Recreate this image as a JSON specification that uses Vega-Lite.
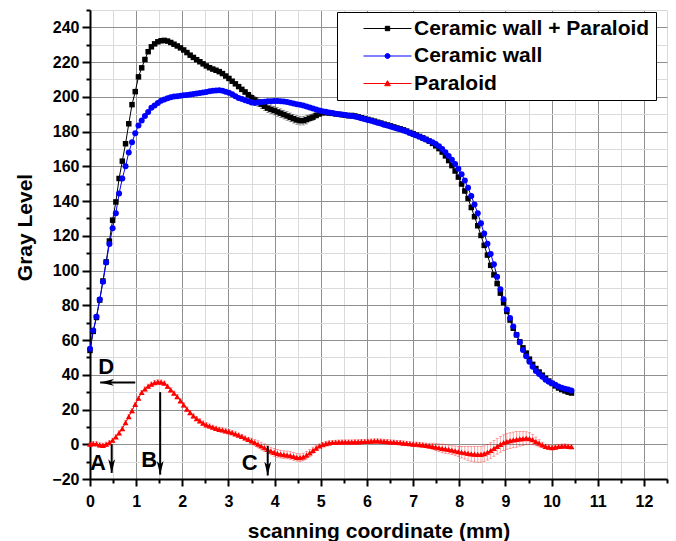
{
"$schema":"https://vega.github.io/schema/vega-lite/v6.json",
"width":577,"height":469,
"autosize":{"type":"none"},
"padding":{"left":90,"top":10,"right":9,"bottom":62},
"background":"white",
"config":{"view":{"stroke":null},"font":"Liberation Sans",
"legend":{"orient":"none","legendX":247,"legendY":2,"strokeColor":"black","fillColor":"white","padding":6,
"labelFont":"Liberation Sans","labelFontSize":21,"labelFontWeight":"bold","labelColor":"black","labelLimit":400,
"symbolSize":400,"labelOffset":50,"rowPadding":5.5,"symbolStrokeWidth":1}},
"datasets":{
"curves":[
{"s":"K","x":0,"y":54,"e":1},{"s":"K","x":0.07,"y":65,"e":1},{"s":"K","x":0.14,"y":73,"e":1},{"s":"K","x":0.21,"y":83,"e":1},{"s":"K","x":0.28,"y":94,"e":1},{"s":"K","x":0.35,"y":105,"e":1},{"s":"K","x":0.42,"y":117,"e":1},{"s":"K","x":0.49,"y":129,"e":1},{"s":"K","x":0.56,"y":139.5,"e":1},{"s":"K","x":0.63,"y":153,"e":1},{"s":"K","x":0.7,"y":163,"e":1},{"s":"K","x":0.77,"y":173,"e":1},{"s":"K","x":0.84,"y":184.5,"e":1},{"s":"K","x":0.91,"y":195.5,"e":1},{"s":"K","x":0.98,"y":203,"e":1},{"s":"K","x":1.05,"y":211.5,"e":1},{"s":"K","x":1.12,"y":216.7,"e":1},{"s":"K","x":1.19,"y":221.5,"e":1},{"s":"K","x":1.26,"y":226,"e":1},{"s":"K","x":1.33,"y":228.8,"e":1},{"s":"K","x":1.4,"y":230.5,"e":1},{"s":"K","x":1.47,"y":231.7,"e":1},{"s":"K","x":1.54,"y":232.3,"e":1},{"s":"K","x":1.61,"y":232.5,"e":1},{"s":"K","x":1.68,"y":232.1,"e":1},{"s":"K","x":1.75,"y":231.3,"e":1},{"s":"K","x":1.82,"y":230.3,"e":1},{"s":"K","x":1.89,"y":229.3,"e":1},{"s":"K","x":1.96,"y":228.2,"e":1},{"s":"K","x":2.03,"y":227,"e":1},{"s":"K","x":2.1,"y":225.5,"e":1},{"s":"K","x":2.17,"y":224,"e":1},{"s":"K","x":2.24,"y":222.7,"e":1},{"s":"K","x":2.31,"y":221.4,"e":1},{"s":"K","x":2.38,"y":220.2,"e":1},{"s":"K","x":2.45,"y":219,"e":1},{"s":"K","x":2.52,"y":217.8,"e":1},{"s":"K","x":2.59,"y":216.8,"e":1},{"s":"K","x":2.66,"y":216,"e":1},{"s":"K","x":2.73,"y":215.3,"e":1},{"s":"K","x":2.8,"y":214.5,"e":1},{"s":"K","x":2.87,"y":213.4,"e":1},{"s":"K","x":2.94,"y":212,"e":1},{"s":"K","x":3.01,"y":210.6,"e":1},{"s":"K","x":3.08,"y":209,"e":1},{"s":"K","x":3.15,"y":207.5,"e":1},{"s":"K","x":3.22,"y":205.9,"e":1},{"s":"K","x":3.29,"y":204.3,"e":1},{"s":"K","x":3.36,"y":202.8,"e":1.5},{"s":"K","x":3.43,"y":201.2,"e":1.5},{"s":"K","x":3.5,"y":199.5,"e":2},{"s":"K","x":3.57,"y":198.2,"e":2},{"s":"K","x":3.64,"y":197,"e":2.5},{"s":"K","x":3.71,"y":195.8,"e":2.5},{"s":"K","x":3.78,"y":194.6,"e":2.5},{"s":"K","x":3.85,"y":193.5,"e":2.5},{"s":"K","x":3.92,"y":192.8,"e":2.5},{"s":"K","x":3.99,"y":192.1,"e":2.5},{"s":"K","x":4.06,"y":191.3,"e":2.5},{"s":"K","x":4.13,"y":190.6,"e":2.5},{"s":"K","x":4.2,"y":189.8,"e":2.5},{"s":"K","x":4.27,"y":189,"e":2.5},{"s":"K","x":4.34,"y":188.2,"e":2.5},{"s":"K","x":4.41,"y":187.4,"e":2.5},{"s":"K","x":4.48,"y":186.7,"e":2.5},{"s":"K","x":4.55,"y":186.3,"e":2.5},{"s":"K","x":4.62,"y":186.3,"e":2.5},{"s":"K","x":4.69,"y":186.9,"e":2.5},{"s":"K","x":4.76,"y":187.7,"e":2},{"s":"K","x":4.83,"y":188.3,"e":2},{"s":"K","x":4.9,"y":189.3,"e":1.5},{"s":"K","x":4.97,"y":190.2,"e":1.5},{"s":"K","x":5.04,"y":190.8,"e":1},{"s":"K","x":5.11,"y":190.9,"e":1},{"s":"K","x":5.18,"y":190.7,"e":1},{"s":"K","x":5.25,"y":190.5,"e":1},{"s":"K","x":5.32,"y":190.2,"e":1},{"s":"K","x":5.39,"y":190,"e":1},{"s":"K","x":5.46,"y":189.7,"e":1},{"s":"K","x":5.53,"y":189.4,"e":1},{"s":"K","x":5.6,"y":189.1,"e":1},{"s":"K","x":5.67,"y":189.3,"e":1},{"s":"K","x":5.74,"y":189,"e":1},{"s":"K","x":5.81,"y":188.5,"e":1},{"s":"K","x":5.88,"y":188,"e":1},{"s":"K","x":5.95,"y":187.5,"e":1},{"s":"K","x":6.02,"y":187,"e":1},{"s":"K","x":6.09,"y":186.5,"e":1},{"s":"K","x":6.16,"y":186,"e":1},{"s":"K","x":6.23,"y":185.4,"e":1},{"s":"K","x":6.3,"y":184.9,"e":1},{"s":"K","x":6.37,"y":184.3,"e":1},{"s":"K","x":6.44,"y":183.8,"e":1},{"s":"K","x":6.51,"y":183.3,"e":1},{"s":"K","x":6.58,"y":182.7,"e":1},{"s":"K","x":6.65,"y":182.1,"e":1},{"s":"K","x":6.72,"y":181.6,"e":1},{"s":"K","x":6.79,"y":181,"e":1},{"s":"K","x":6.86,"y":180.3,"e":1},{"s":"K","x":6.93,"y":179.5,"e":1},{"s":"K","x":7,"y":178.8,"e":1},{"s":"K","x":7.07,"y":178,"e":1},{"s":"K","x":7.14,"y":177.2,"e":1},{"s":"K","x":7.21,"y":176.4,"e":1},{"s":"K","x":7.28,"y":175.5,"e":1},{"s":"K","x":7.35,"y":174.5,"e":1},{"s":"K","x":7.42,"y":173.2,"e":1},{"s":"K","x":7.49,"y":171.8,"e":1},{"s":"K","x":7.56,"y":170.2,"e":1},{"s":"K","x":7.63,"y":168.2,"e":1},{"s":"K","x":7.7,"y":166,"e":1},{"s":"K","x":7.77,"y":163.3,"e":1},{"s":"K","x":7.84,"y":160.4,"e":1},{"s":"K","x":7.91,"y":157.3,"e":1},{"s":"K","x":7.98,"y":153.8,"e":1},{"s":"K","x":8.05,"y":149.8,"e":1},{"s":"K","x":8.12,"y":145.8,"e":1},{"s":"K","x":8.19,"y":141.5,"e":1},{"s":"K","x":8.26,"y":136.3,"e":1},{"s":"K","x":8.33,"y":131,"e":1},{"s":"K","x":8.4,"y":125.8,"e":1},{"s":"K","x":8.47,"y":120.2,"e":1},{"s":"K","x":8.54,"y":114.5,"e":1},{"s":"K","x":8.61,"y":108.9,"e":1},{"s":"K","x":8.68,"y":103,"e":1},{"s":"K","x":8.75,"y":97.5,"e":1},{"s":"K","x":8.82,"y":92.5,"e":1},{"s":"K","x":8.89,"y":87,"e":1},{"s":"K","x":8.96,"y":81.5,"e":1},{"s":"K","x":9.03,"y":76.5,"e":1},{"s":"K","x":9.1,"y":71.5,"e":1},{"s":"K","x":9.17,"y":66.8,"e":1},{"s":"K","x":9.24,"y":63,"e":1},{"s":"K","x":9.31,"y":59,"e":1},{"s":"K","x":9.38,"y":55.5,"e":1},{"s":"K","x":9.45,"y":52.5,"e":1},{"s":"K","x":9.52,"y":49,"e":1},{"s":"K","x":9.59,"y":46,"e":1},{"s":"K","x":9.66,"y":43.6,"e":1},{"s":"K","x":9.73,"y":41.6,"e":1},{"s":"K","x":9.8,"y":39.8,"e":1},{"s":"K","x":9.87,"y":38,"e":1},{"s":"K","x":9.94,"y":36.4,"e":1},{"s":"K","x":10.01,"y":35,"e":1},{"s":"K","x":10.08,"y":33.6,"e":1},{"s":"K","x":10.15,"y":32.4,"e":1},{"s":"K","x":10.22,"y":31.5,"e":1},{"s":"K","x":10.29,"y":30.7,"e":1},{"s":"K","x":10.36,"y":30,"e":1},{"s":"K","x":10.43,"y":29.5,"e":1},
{"s":"B","x":0,"y":55,"e":0.8},{"s":"B","x":0.07,"y":65.5,"e":0.8},{"s":"B","x":0.14,"y":73.4,"e":0.8},{"s":"B","x":0.21,"y":83.4,"e":0.8},{"s":"B","x":0.28,"y":93.6,"e":0.8},{"s":"B","x":0.35,"y":104.6,"e":0.8},{"s":"B","x":0.42,"y":115.3,"e":0.8},{"s":"B","x":0.49,"y":124.3,"e":0.8},{"s":"B","x":0.56,"y":133,"e":0.8},{"s":"B","x":0.63,"y":144.3,"e":0.8},{"s":"B","x":0.7,"y":153,"e":0.8},{"s":"B","x":0.77,"y":160,"e":0.8},{"s":"B","x":0.84,"y":168,"e":0.8},{"s":"B","x":0.91,"y":173.8,"e":0.8},{"s":"B","x":0.98,"y":179,"e":0.8},{"s":"B","x":1.05,"y":183.5,"e":0.8},{"s":"B","x":1.12,"y":186.4,"e":0.8},{"s":"B","x":1.19,"y":189,"e":0.8},{"s":"B","x":1.26,"y":191.3,"e":0.8},{"s":"B","x":1.33,"y":193.7,"e":0.8},{"s":"B","x":1.4,"y":195,"e":0.8},{"s":"B","x":1.47,"y":196.5,"e":0.8},{"s":"B","x":1.54,"y":197.8,"e":0.8},{"s":"B","x":1.61,"y":198.5,"e":0.8},{"s":"B","x":1.68,"y":199.2,"e":0.8},{"s":"B","x":1.75,"y":199.8,"e":0.8},{"s":"B","x":1.82,"y":200.2,"e":0.8},{"s":"B","x":1.89,"y":200.4,"e":0.8},{"s":"B","x":1.96,"y":200.7,"e":0.8},{"s":"B","x":2.03,"y":200.9,"e":0.8},{"s":"B","x":2.1,"y":201.1,"e":0.8},{"s":"B","x":2.17,"y":201.4,"e":0.8},{"s":"B","x":2.24,"y":201.6,"e":0.8},{"s":"B","x":2.31,"y":201.9,"e":0.8},{"s":"B","x":2.38,"y":202.2,"e":0.8},{"s":"B","x":2.45,"y":202.5,"e":0.8},{"s":"B","x":2.52,"y":202.8,"e":0.8},{"s":"B","x":2.59,"y":203.2,"e":0.8},{"s":"B","x":2.66,"y":203.5,"e":0.8},{"s":"B","x":2.73,"y":203.7,"e":0.8},{"s":"B","x":2.8,"y":203.8,"e":0.8},{"s":"B","x":2.87,"y":203.5,"e":0.8},{"s":"B","x":2.94,"y":203,"e":0.8},{"s":"B","x":3.01,"y":202.3,"e":0.8},{"s":"B","x":3.08,"y":201.5,"e":0.8},{"s":"B","x":3.15,"y":200.3,"e":0.8},{"s":"B","x":3.22,"y":199.4,"e":0.8},{"s":"B","x":3.29,"y":198.8,"e":0.8},{"s":"B","x":3.36,"y":198.1,"e":0.8},{"s":"B","x":3.43,"y":197.5,"e":0.8},{"s":"B","x":3.5,"y":196.8,"e":0.8},{"s":"B","x":3.57,"y":196.5,"e":0.8},{"s":"B","x":3.64,"y":196.7,"e":0.8},{"s":"B","x":3.71,"y":197,"e":0.8},{"s":"B","x":3.78,"y":197.2,"e":0.8},{"s":"B","x":3.85,"y":197.4,"e":0.8},{"s":"B","x":3.92,"y":197.5,"e":0.8},{"s":"B","x":3.99,"y":197.6,"e":0.8},{"s":"B","x":4.06,"y":197.6,"e":0.8},{"s":"B","x":4.13,"y":197.5,"e":0.8},{"s":"B","x":4.2,"y":197.3,"e":0.8},{"s":"B","x":4.27,"y":197,"e":0.8},{"s":"B","x":4.34,"y":196.6,"e":0.8},{"s":"B","x":4.41,"y":196.2,"e":0.8},{"s":"B","x":4.48,"y":195.8,"e":0.8},{"s":"B","x":4.55,"y":195.4,"e":0.8},{"s":"B","x":4.62,"y":195,"e":0.8},{"s":"B","x":4.69,"y":194.5,"e":0.8},{"s":"B","x":4.76,"y":193.9,"e":0.8},{"s":"B","x":4.83,"y":193.3,"e":0.8},{"s":"B","x":4.9,"y":192.7,"e":0.8},{"s":"B","x":4.97,"y":192.1,"e":0.8},{"s":"B","x":5.04,"y":191.7,"e":0.8},{"s":"B","x":5.11,"y":191.4,"e":0.8},{"s":"B","x":5.18,"y":191,"e":0.8},{"s":"B","x":5.25,"y":190.7,"e":0.8},{"s":"B","x":5.32,"y":190.3,"e":0.8},{"s":"B","x":5.39,"y":190,"e":0.8},{"s":"B","x":5.46,"y":189.8,"e":0.8},{"s":"B","x":5.53,"y":189.5,"e":0.8},{"s":"B","x":5.6,"y":189.3,"e":0.8},{"s":"B","x":5.67,"y":189,"e":0.8},{"s":"B","x":5.74,"y":188.7,"e":0.8},{"s":"B","x":5.81,"y":188.2,"e":0.8},{"s":"B","x":5.88,"y":187.7,"e":0.8},{"s":"B","x":5.95,"y":187.2,"e":0.8},{"s":"B","x":6.02,"y":186.7,"e":0.8},{"s":"B","x":6.09,"y":186.2,"e":0.8},{"s":"B","x":6.16,"y":185.7,"e":0.8},{"s":"B","x":6.23,"y":185.1,"e":0.8},{"s":"B","x":6.3,"y":184.6,"e":0.8},{"s":"B","x":6.37,"y":184,"e":0.8},{"s":"B","x":6.44,"y":183.5,"e":0.8},{"s":"B","x":6.51,"y":183,"e":0.8},{"s":"B","x":6.58,"y":182.4,"e":0.8},{"s":"B","x":6.65,"y":181.8,"e":0.8},{"s":"B","x":6.72,"y":181.3,"e":0.8},{"s":"B","x":6.79,"y":180.7,"e":0.8},{"s":"B","x":6.86,"y":180,"e":0.8},{"s":"B","x":6.93,"y":179.2,"e":0.8},{"s":"B","x":7,"y":178.5,"e":0.8},{"s":"B","x":7.07,"y":177.7,"e":0.8},{"s":"B","x":7.14,"y":177,"e":0.8},{"s":"B","x":7.21,"y":176.2,"e":0.8},{"s":"B","x":7.28,"y":175.4,"e":0.8},{"s":"B","x":7.35,"y":174.6,"e":0.8},{"s":"B","x":7.42,"y":173.8,"e":0.8},{"s":"B","x":7.49,"y":172.8,"e":0.8},{"s":"B","x":7.56,"y":171.5,"e":0.8},{"s":"B","x":7.63,"y":170,"e":0.8},{"s":"B","x":7.7,"y":168.1,"e":0.8},{"s":"B","x":7.77,"y":166,"e":0.8},{"s":"B","x":7.84,"y":163.8,"e":0.8},{"s":"B","x":7.91,"y":161.3,"e":0.8},{"s":"B","x":7.98,"y":158.6,"e":0.8},{"s":"B","x":8.05,"y":155.5,"e":0.8},{"s":"B","x":8.12,"y":151.8,"e":0.8},{"s":"B","x":8.19,"y":147.6,"e":0.8},{"s":"B","x":8.26,"y":142.9,"e":0.8},{"s":"B","x":8.33,"y":138,"e":0.8},{"s":"B","x":8.4,"y":133,"e":0.8},{"s":"B","x":8.47,"y":127.2,"e":0.8},{"s":"B","x":8.54,"y":121.3,"e":0.8},{"s":"B","x":8.61,"y":115.5,"e":0.8},{"s":"B","x":8.68,"y":109.6,"e":0.8},{"s":"B","x":8.75,"y":103.7,"e":0.8},{"s":"B","x":8.82,"y":96.5,"e":0.8},{"s":"B","x":8.89,"y":89.3,"e":0.8},{"s":"B","x":8.96,"y":83.5,"e":0.8},{"s":"B","x":9.03,"y":77.6,"e":0.8},{"s":"B","x":9.1,"y":72.7,"e":0.8},{"s":"B","x":9.17,"y":67.8,"e":0.8},{"s":"B","x":9.24,"y":63.1,"e":0.8},{"s":"B","x":9.31,"y":58.7,"e":0.8},{"s":"B","x":9.38,"y":54.2,"e":0.8},{"s":"B","x":9.45,"y":50.6,"e":0.8},{"s":"B","x":9.52,"y":47.5,"e":0.8},{"s":"B","x":9.59,"y":44.6,"e":0.8},{"s":"B","x":9.66,"y":42.2,"e":0.8},{"s":"B","x":9.73,"y":40.4,"e":0.8},{"s":"B","x":9.8,"y":38.8,"e":0.8},{"s":"B","x":9.87,"y":37.2,"e":0.8},{"s":"B","x":9.94,"y":36,"e":0.8},{"s":"B","x":10.01,"y":35.1,"e":0.8},{"s":"B","x":10.08,"y":34.2,"e":0.8},{"s":"B","x":10.15,"y":33.3,"e":0.8},{"s":"B","x":10.22,"y":32.6,"e":0.8},{"s":"B","x":10.29,"y":32,"e":0.8},{"s":"B","x":10.36,"y":31.5,"e":0.8},{"s":"B","x":10.43,"y":31,"e":0.8},
{"s":"R","x":0,"y":0,"e":1.2},{"s":"R","x":0.07,"y":0.4,"e":1.2},{"s":"R","x":0.14,"y":0.3,"e":1.2},{"s":"R","x":0.21,"y":-0.4,"e":1.2},{"s":"R","x":0.28,"y":-0.6,"e":1.2},{"s":"R","x":0.35,"y":0,"e":1.2},{"s":"R","x":0.42,"y":0.9,"e":1.2},{"s":"R","x":0.49,"y":2.3,"e":1.2},{"s":"R","x":0.56,"y":4.3,"e":1.2},{"s":"R","x":0.63,"y":6.5,"e":1.2},{"s":"R","x":0.7,"y":9,"e":1.2},{"s":"R","x":0.77,"y":12.4,"e":1.2},{"s":"R","x":0.84,"y":15.9,"e":1.2},{"s":"R","x":0.91,"y":19.3,"e":1.2},{"s":"R","x":0.98,"y":23,"e":1.2},{"s":"R","x":1.05,"y":26.5,"e":1.2},{"s":"R","x":1.12,"y":29.8,"e":1.2},{"s":"R","x":1.19,"y":31.8,"e":1.2},{"s":"R","x":1.26,"y":33.4,"e":1.2},{"s":"R","x":1.33,"y":34.6,"e":1.2},{"s":"R","x":1.4,"y":35.5,"e":1.2},{"s":"R","x":1.47,"y":35.9,"e":1.2},{"s":"R","x":1.54,"y":35.8,"e":1.2},{"s":"R","x":1.61,"y":35.2,"e":1.2},{"s":"R","x":1.68,"y":33.4,"e":1.2},{"s":"R","x":1.75,"y":31.3,"e":1.2},{"s":"R","x":1.82,"y":29.4,"e":1.2},{"s":"R","x":1.89,"y":27.4,"e":1.2},{"s":"R","x":1.96,"y":25,"e":1.2},{"s":"R","x":2.03,"y":22.7,"e":1.2},{"s":"R","x":2.1,"y":20.2,"e":1.2},{"s":"R","x":2.17,"y":18.2,"e":1.2},{"s":"R","x":2.24,"y":16.3,"e":1.2},{"s":"R","x":2.31,"y":14.8,"e":1.2},{"s":"R","x":2.38,"y":13.5,"e":1.2},{"s":"R","x":2.45,"y":12.2,"e":1.2},{"s":"R","x":2.52,"y":11.2,"e":1.2},{"s":"R","x":2.59,"y":10.5,"e":1.2},{"s":"R","x":2.66,"y":9.8,"e":1.2},{"s":"R","x":2.73,"y":9.2,"e":1.2},{"s":"R","x":2.8,"y":8.6,"e":1.2},{"s":"R","x":2.87,"y":8.2,"e":1.2},{"s":"R","x":2.94,"y":7.7,"e":1.2},{"s":"R","x":3.01,"y":7.3,"e":1.2},{"s":"R","x":3.08,"y":6.7,"e":1.2},{"s":"R","x":3.15,"y":6,"e":1.2},{"s":"R","x":3.22,"y":5.3,"e":1.2},{"s":"R","x":3.29,"y":4.5,"e":1.2},{"s":"R","x":3.36,"y":3.6,"e":1.2},{"s":"R","x":3.43,"y":2.8,"e":1.2},{"s":"R","x":3.5,"y":2,"e":1.5},{"s":"R","x":3.57,"y":1,"e":1.8},{"s":"R","x":3.64,"y":0,"e":2},{"s":"R","x":3.71,"y":-1,"e":2.2},{"s":"R","x":3.78,"y":-2,"e":2.2},{"s":"R","x":3.85,"y":-3,"e":2.2},{"s":"R","x":3.92,"y":-3.9,"e":2.2},{"s":"R","x":3.99,"y":-4.7,"e":2.2},{"s":"R","x":4.06,"y":-5.3,"e":2.2},{"s":"R","x":4.13,"y":-5.7,"e":2.2},{"s":"R","x":4.2,"y":-6,"e":2.2},{"s":"R","x":4.27,"y":-6.2,"e":2.2},{"s":"R","x":4.34,"y":-6.5,"e":2.2},{"s":"R","x":4.41,"y":-7,"e":2.2},{"s":"R","x":4.48,"y":-7.5,"e":2.2},{"s":"R","x":4.55,"y":-7.7,"e":2.2},{"s":"R","x":4.62,"y":-7.3,"e":2.2},{"s":"R","x":4.69,"y":-6.3,"e":2.2},{"s":"R","x":4.76,"y":-5,"e":2},{"s":"R","x":4.83,"y":-3.5,"e":1.8},{"s":"R","x":4.9,"y":-2.2,"e":1.5},{"s":"R","x":4.97,"y":-1,"e":1.2},{"s":"R","x":5.04,"y":-0.2,"e":1.2},{"s":"R","x":5.11,"y":0.4,"e":1.2},{"s":"R","x":5.18,"y":0.8,"e":1.2},{"s":"R","x":5.25,"y":1,"e":1.2},{"s":"R","x":5.32,"y":1.1,"e":1.2},{"s":"R","x":5.39,"y":1.2,"e":1.2},{"s":"R","x":5.46,"y":1.3,"e":1.2},{"s":"R","x":5.53,"y":1.3,"e":1.2},{"s":"R","x":5.6,"y":1.3,"e":1.2},{"s":"R","x":5.67,"y":1.3,"e":1.2},{"s":"R","x":5.74,"y":1.4,"e":1.2},{"s":"R","x":5.81,"y":1.4,"e":1.2},{"s":"R","x":5.88,"y":1.5,"e":1.2},{"s":"R","x":5.95,"y":1.6,"e":1.2},{"s":"R","x":6.02,"y":1.7,"e":1.2},{"s":"R","x":6.09,"y":1.8,"e":1.2},{"s":"R","x":6.16,"y":1.9,"e":1.2},{"s":"R","x":6.23,"y":1.9,"e":1.2},{"s":"R","x":6.3,"y":1.8,"e":1.2},{"s":"R","x":6.37,"y":1.7,"e":1.2},{"s":"R","x":6.44,"y":1.5,"e":1.2},{"s":"R","x":6.51,"y":1.3,"e":1.2},{"s":"R","x":6.58,"y":1.2,"e":1.2},{"s":"R","x":6.65,"y":1,"e":1.2},{"s":"R","x":6.72,"y":0.9,"e":1.2},{"s":"R","x":6.79,"y":0.7,"e":1.2},{"s":"R","x":6.86,"y":0.5,"e":1.2},{"s":"R","x":6.93,"y":0.3,"e":1.2},{"s":"R","x":7,"y":0.1,"e":1.2},{"s":"R","x":7.07,"y":0,"e":1.2},{"s":"R","x":7.14,"y":-0.2,"e":1.2},{"s":"R","x":7.21,"y":-0.4,"e":1.2},{"s":"R","x":7.28,"y":-0.6,"e":1.2},{"s":"R","x":7.35,"y":-0.9,"e":1.5},{"s":"R","x":7.42,"y":-1.2,"e":1.8},{"s":"R","x":7.49,"y":-1.6,"e":2},{"s":"R","x":7.56,"y":-2,"e":2.2},{"s":"R","x":7.63,"y":-2.4,"e":2.5},{"s":"R","x":7.7,"y":-2.7,"e":2.5},{"s":"R","x":7.77,"y":-3,"e":2.5},{"s":"R","x":7.84,"y":-3.4,"e":2.5},{"s":"R","x":7.91,"y":-3.8,"e":2.8},{"s":"R","x":7.98,"y":-4.2,"e":3},{"s":"R","x":8.05,"y":-4.6,"e":3.3},{"s":"R","x":8.12,"y":-4.9,"e":3.6},{"s":"R","x":8.19,"y":-5.2,"e":4},{"s":"R","x":8.26,"y":-5.5,"e":4.3},{"s":"R","x":8.33,"y":-5.7,"e":4.5},{"s":"R","x":8.4,"y":-5.8,"e":4.5},{"s":"R","x":8.47,"y":-5.8,"e":4.5},{"s":"R","x":8.54,"y":-5.4,"e":4.5},{"s":"R","x":8.61,"y":-4.6,"e":4.5},{"s":"R","x":8.68,"y":-3.6,"e":4.5},{"s":"R","x":8.75,"y":-2.4,"e":4.5},{"s":"R","x":8.82,"y":-1.2,"e":4.5},{"s":"R","x":8.89,"y":-0.1,"e":4.5},{"s":"R","x":8.96,"y":0.9,"e":4.5},{"s":"R","x":9.03,"y":1.6,"e":4.5},{"s":"R","x":9.1,"y":2.1,"e":4.5},{"s":"R","x":9.17,"y":2.5,"e":4.5},{"s":"R","x":9.24,"y":2.8,"e":4.5},{"s":"R","x":9.31,"y":3.1,"e":4.2},{"s":"R","x":9.38,"y":3.3,"e":4},{"s":"R","x":9.45,"y":3.5,"e":3.7},{"s":"R","x":9.52,"y":3.3,"e":3.3},{"s":"R","x":9.59,"y":2.7,"e":3},{"s":"R","x":9.66,"y":1.6,"e":2.5},{"s":"R","x":9.73,"y":0.6,"e":2},{"s":"R","x":9.8,"y":-0.4,"e":1.6},{"s":"R","x":9.87,"y":-1.2,"e":1.2},{"s":"R","x":9.94,"y":-1.7,"e":1.2},{"s":"R","x":10.01,"y":-1.9,"e":1.2},{"s":"R","x":10.08,"y":-1.7,"e":1.2},{"s":"R","x":10.15,"y":-1.3,"e":1.2},{"s":"R","x":10.22,"y":-1.1,"e":1.2},{"s":"R","x":10.29,"y":-1,"e":1.2},{"s":"R","x":10.36,"y":-1.2,"e":1.2},{"s":"R","x":10.43,"y":-1.4,"e":1.2}
],
"arrows":[
{"x":0.47,"y":0,"x2":0.47,"y2":-16.5},
{"x":1.52,"y":30,"x2":1.52,"y2":-17.5},
{"x":3.85,"y":-1,"x2":3.85,"y2":-18},
{"x":0.98,"y":35.6,"x2":0.22,"y2":35.6}
],
"heads":[
{"x":0.47,"y":-16.5,"dir":"down"},
{"x":1.52,"y":-17.5,"dir":"down"},
{"x":3.85,"y":-18,"dir":"down"},
{"x":0.22,"y":35.6,"dir":"left"}
],
"labels":[
{"x":0.17,"y":-11,"label":"A"},
{"x":1.28,"y":-9.2,"label":"B"},
{"x":3.46,"y":-10.6,"label":"C"},
{"x":0.35,"y":44.2,"label":"D"}
]
},
"encoding":{
"x":{"field":"x","type":"quantitative","scale":{"domain":[0,12.5],"nice":false,"zero":false},
"axis":{"title":"scanning coordinate (mm)","values":[0,0.5,1,1.5,2,2.5,3,3.5,4,4.5,5,5.5,6,6.5,7,7.5,8,8.5,9,9.5,10,10.5,11,11.5,12,12.5],
"labelExpr":"datum.value % 1 === 0 ? format(datum.value, 'd') : ''","grid":true,
"gridColor":{"condition":{"test":"datum.value % 1 === 0","value":"#8f8f8f"},"value":"#dadada"},"gridWidth":1,
"tickSize":{"condition":{"test":"datum.value % 1 === 0","value":7},"value":4},"tickWidth":2,"tickColor":"black",
"domainColor":"black","domainWidth":2,"labelFontSize":16,"labelFontWeight":"bold","labelColor":"black","labelFont":"Liberation Sans",
"labelPadding":7,"labelFlush":false,"labelOverlap":false,
"titleFontSize":21,"titleFontWeight":"bold","titleFont":"Liberation Sans","titleColor":"black","titlePadding":11}},
"y":{"field":"y","type":"quantitative","scale":{"domain":[-20,250],"nice":false,"zero":false},
"axis":{"title":"Gray Level","values":[-20,-10,0,10,20,30,40,50,60,70,80,90,100,110,120,130,140,150,160,170,180,190,200,210,220,230,240,250],
"labelExpr":"datum.value % 20 === 0 ? datum.label : ''","grid":true,
"gridColor":{"condition":{"test":"datum.value % 20 === 0","value":"#8f8f8f"},"value":"#dadada"},"gridWidth":1,
"tickSize":{"condition":{"test":"datum.value % 20 === 0","value":8},"value":4},"tickWidth":2,"tickColor":"black",
"domainColor":"black","domainWidth":2,"labelFontSize":16,"labelFontWeight":"bold","labelColor":"black","labelFont":"Liberation Sans",
"labelPadding":3,"labelFlush":false,"labelOverlap":false,
"titleFontSize":21,"titleFontWeight":"bold","titleFont":"Liberation Sans","titleColor":"black","titlePadding":16,"titleY":217}}
},
"layer":[
{"data":{"name":"curves"},
"mark":{"type":"errorbar","ticks":{"size":3},"thickness":0.8,"opacity":0.45},
"encoding":{"yError":{"field":"e"},
"color":{"field":"s","type":"nominal","scale":{"domain":["K","B","R"],"range":["#000000","#0000ff","#ff0000"]},
"legend":{"title":null,"labelExpr":"datum.value === 'K' ? 'Ceramic wall + Paraloid' : datum.value === 'B' ? 'Ceramic wall' : 'Paraloid'",
"encode":{"symbols":{"update":{"shape":{"signal":"datum.value === 'K' ? 'M1.0,0H5.8M3.18,-0.22H3.62V0.22H3.18Z' : datum.value === 'B' ? 'M1.0,0H5.8M3.65,0A0.25,0.25 0 1,1 3.15,0A0.25,0.25 0 1,1 3.65,0Z' : 'M1.0,0H5.8M3.4,-0.28L3.68,0.22H3.12Z'"},"fill":{"scale":"color","field":"value"},"stroke":{"scale":"color","field":"value"},"opacity":{"value":1},"strokeWidth":{"value":1}}}}}}}},
{"data":{"name":"curves"},
"mark":{"type":"line","strokeWidth":1},
"encoding":{
"color":{"field":"s","type":"nominal","scale":{"domain":["K","B","R"],"range":["#000000","#0000ff","#ff0000"]},
"legend":{"title":null,"labelExpr":"datum.value === 'K' ? 'Ceramic wall + Paraloid' : datum.value === 'B' ? 'Ceramic wall' : 'Paraloid'",
"encode":{"symbols":{"update":{"shape":{"signal":"datum.value === 'K' ? 'M1.0,0H5.8M3.18,-0.22H3.62V0.22H3.18Z' : datum.value === 'B' ? 'M1.0,0H5.8M3.65,0A0.25,0.25 0 1,1 3.15,0A0.25,0.25 0 1,1 3.65,0Z' : 'M1.0,0H5.8M3.4,-0.28L3.68,0.22H3.12Z'"},"fill":{"scale":"color","field":"value"},"stroke":{"scale":"color","field":"value"},"opacity":{"value":1},"strokeWidth":{"value":1}}}}}}}},
{"data":{"name":"curves"},
"transform":[{"filter":"datum.s === 'K'"}],
"mark":{"type":"point","filled":true,"size":30,"opacity":1,"shape":"square"},
"encoding":{
"color":{"field":"s","type":"nominal","scale":{"domain":["K","B","R"],"range":["#000000","#0000ff","#ff0000"]},
"legend":{"title":null,"labelExpr":"datum.value === 'K' ? 'Ceramic wall + Paraloid' : datum.value === 'B' ? 'Ceramic wall' : 'Paraloid'",
"encode":{"symbols":{"update":{"shape":{"signal":"datum.value === 'K' ? 'M1.0,0H5.8M3.18,-0.22H3.62V0.22H3.18Z' : datum.value === 'B' ? 'M1.0,0H5.8M3.65,0A0.25,0.25 0 1,1 3.15,0A0.25,0.25 0 1,1 3.65,0Z' : 'M1.0,0H5.8M3.4,-0.28L3.68,0.22H3.12Z'"},"fill":{"scale":"color","field":"value"},"stroke":{"scale":"color","field":"value"},"opacity":{"value":1},"strokeWidth":{"value":1}}}}}}}},
{"data":{"name":"curves"},
"transform":[{"filter":"datum.s === 'B'"}],
"mark":{"type":"point","filled":true,"size":36,"opacity":1,"shape":"circle"},
"encoding":{
"color":{"field":"s","type":"nominal","scale":{"domain":["K","B","R"],"range":["#000000","#0000ff","#ff0000"]},
"legend":{"title":null,"labelExpr":"datum.value === 'K' ? 'Ceramic wall + Paraloid' : datum.value === 'B' ? 'Ceramic wall' : 'Paraloid'",
"encode":{"symbols":{"update":{"shape":{"signal":"datum.value === 'K' ? 'M1.0,0H5.8M3.18,-0.22H3.62V0.22H3.18Z' : datum.value === 'B' ? 'M1.0,0H5.8M3.65,0A0.25,0.25 0 1,1 3.15,0A0.25,0.25 0 1,1 3.65,0Z' : 'M1.0,0H5.8M3.4,-0.28L3.68,0.22H3.12Z'"},"fill":{"scale":"color","field":"value"},"stroke":{"scale":"color","field":"value"},"opacity":{"value":1},"strokeWidth":{"value":1}}}}}}}},
{"data":{"name":"curves"},
"transform":[{"filter":"datum.s === 'R'"}],
"mark":{"type":"point","filled":true,"size":36,"opacity":1,"shape":"triangle-up"},
"encoding":{
"color":{"field":"s","type":"nominal","scale":{"domain":["K","B","R"],"range":["#000000","#0000ff","#ff0000"]},
"legend":{"title":null,"labelExpr":"datum.value === 'K' ? 'Ceramic wall + Paraloid' : datum.value === 'B' ? 'Ceramic wall' : 'Paraloid'",
"encode":{"symbols":{"update":{"shape":{"signal":"datum.value === 'K' ? 'M1.0,0H5.8M3.18,-0.22H3.62V0.22H3.18Z' : datum.value === 'B' ? 'M1.0,0H5.8M3.65,0A0.25,0.25 0 1,1 3.15,0A0.25,0.25 0 1,1 3.65,0Z' : 'M1.0,0H5.8M3.4,-0.28L3.68,0.22H3.12Z'"},"fill":{"scale":"color","field":"value"},"stroke":{"scale":"color","field":"value"},"opacity":{"value":1},"strokeWidth":{"value":1}}}}}}}},
{"data":{"name":"arrows"},
"mark":{"type":"rule","color":"black","strokeWidth":2},
"encoding":{"x2":{"field":"x2"},"y2":{"field":"y2"}}},
{"data":{"name":"heads"},
"transform":[{"filter":"datum.dir === 'down'"}],
"mark":{"type":"point","filled":true,"color":"black","opacity":1,"size":130,"shape":"M0,0L-0.6,-2.4L0,-1.8L0.6,-2.4Z"},
"encoding":{}},
{"data":{"name":"heads"},
"transform":[{"filter":"datum.dir === 'left'"}],
"mark":{"type":"point","filled":true,"color":"black","opacity":1,"size":130,"shape":"M0,0L2.4,-0.6L1.8,0L2.4,0.6Z"},
"encoding":{}},
{"data":{"name":"labels"},
"mark":{"type":"text","font":"Liberation Sans","fontSize":22,"fontWeight":"bold","color":"black","align":"center","baseline":"middle"},
"encoding":{"text":{"field":"label"}}}
]
}
